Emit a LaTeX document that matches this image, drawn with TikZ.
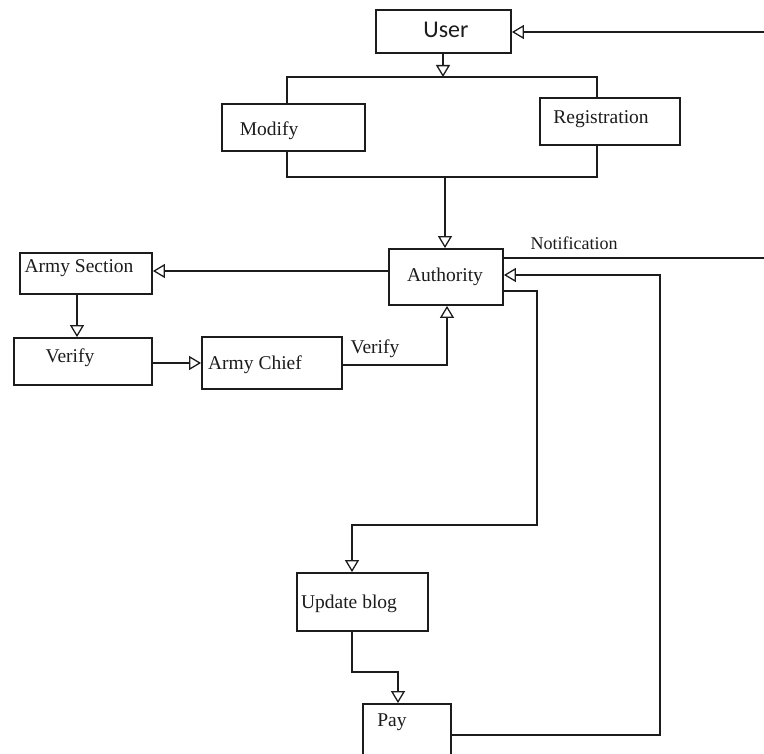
\documentclass[tikz,border=0pt]{standalone}
\usepackage{fontspec}
\setmainfont{Liberation Serif}
\newfontfamily\userfont{Carlito}
\usetikzlibrary{arrows.meta}
\definecolor{ink}{HTML}{1C1C1C}
\tikzset{
  box/.style={draw=ink, line width=1.8pt, rectangle, inner sep=0pt},
  lbl/.style={inner sep=0pt, text=ink, font=\fontsize{19.5}{22}\selectfont},
  conn/.style={draw=ink, line width=1.8pt},
  arr/.style={conn, -{Triangle[open, length=12pt, width=14pt, line width=1.3pt]}},
}
\begin{document}
\begin{tikzpicture}[x=1pt, y=-1pt]
\useasboundingbox[fill=white] (0,0) rectangle (764,754);
% boxes
\node[box, minimum width=135pt, minimum height=43pt] (user) at (443.5,31.5) {};
\node[box, minimum width=143pt, minimum height=47pt] (mod) at (293.5,127.5) {};
\node[box, minimum width=140pt, minimum height=47pt] (reg) at (610,121.5) {};
\node[box, minimum width=114pt, minimum height=56pt] (auth) at (446,277) {};
\node[box, minimum width=132pt, minimum height=41pt] (asec) at (86,273.5) {};
\node[box, minimum width=138pt, minimum height=47pt] (ver) at (83,361.5) {};
\node[box, minimum width=140pt, minimum height=52pt] (chief) at (272,363) {};
\node[box, minimum width=131pt, minimum height=58pt] (upd) at (362.5,602) {};
\node[box, minimum width=88pt, minimum height=60pt] (pay) at (407,734) {};
% labels
\node[inner sep=0pt, text=ink, font=\userfont\fontsize{24}{26}\selectfont] (tuser) at (446,30) {User};
\node[lbl] (tmod) at (269,131) {Modify};
\node[lbl] (treg) at (601,119) {Registration};
\node[lbl] (tauth) at (445,277) {Authority};
\node[lbl] (tasec) at (79,268) {Army Section};
\node[lbl] (tver) at (70,358) {Verify};
\node[lbl] (tchief) at (255,365) {Army Chief};
\node[lbl] (tupd) at (349,604) {Update blog};
\node[lbl] (tpay) at (392,722) {Pay};
\node[lbl] (tvlab) at (375,349) {Verify};
\node[lbl, font=\fontsize{18}{20}\selectfont] (tnot) at (574,243) {Notification};
% coordinates
\coordinate (inU) at (764,32);
\coordinate (tm) at (443,77);
\coordinate (tl) at (287,77);
\coordinate (tr) at (597,77);
\coordinate (bl) at (287,177);
\coordinate (br) at (597,177);
\coordinate (bm) at (445,177);
\coordinate (nr) at (764,258);
\coordinate (pr) at (660,735);
\coordinate (pt) at (660,275);
\coordinate (a1) at (537,291);
\coordinate (a2) at (537,525);
\coordinate (a3) at (352,525);
\coordinate (c1) at (447,365);
\coordinate (u1) at (352,672);
\coordinate (u2) at (398,672);
\coordinate (sx) at (77,0);
% connectors
\draw[arr] (inU) -- (user.east |- inU);
\draw[arr] (user.south -| tm) -- (tm);
\draw[conn] (mod.north -| tl) -- (tl) -- (tr) -- (reg.north -| tr);
\draw[conn] (mod.south -| bl) -- (bl) -- (br) -- (reg.south -| br);
\draw[arr] (bm) -- (auth.north -| bm);
\draw[conn] (auth.east |- nr) -- (nr);
\draw[arr] (pay.east |- pr) -- (pr) -- (pt) -- (auth.east |- pt);
\draw[arr] (auth.east |- a1) -- (a1) -- (a2) -- (a3) -- (upd.north -| a3);
\draw[arr] (auth.west |- 0,271) -- (asec.east |- 0,271);
\draw[arr] (asec.south -| sx) -- (ver.north -| sx);
\draw[arr] (ver.east |- chief.west) -- (chief.west);
\draw[arr] (chief.east |- c1) -- (c1) -- (auth.south -| c1);
\draw[arr] (upd.south -| u1) -- (u1) -- (u2) -- (pay.north -| u2);
\end{tikzpicture}
\end{document}
